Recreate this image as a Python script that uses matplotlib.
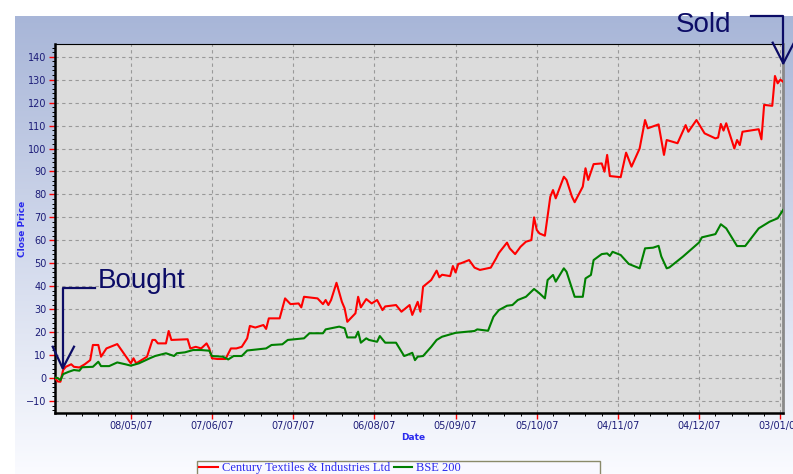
import matplotlib
matplotlib.use("Agg")
import matplotlib.pyplot as plt
import matplotlib.dates as mdates
from matplotlib.patches import Rectangle
from matplotlib.ticker import MultipleLocator, FixedLocator
import numpy as np
import pandas as pd

# Century Textiles (red) - % change of close price
century_dates = [
    '2007-04-10', '2007-04-11', '2007-04-12', '2007-04-13', '2007-04-14', '2007-04-16', '2007-04-17',
    '2007-04-19', '2007-04-21', '2007-04-23', '2007-04-24', '2007-04-26', '2007-04-27', '2007-04-29',
    '2007-05-03', '2007-05-08', '2007-05-09', '2007-05-10', '2007-05-14', '2007-05-16', '2007-05-17',
    '2007-05-18', '2007-05-21', '2007-05-22', '2007-05-23', '2007-05-29', '2007-05-30',
    '2007-06-01', '2007-06-03', '2007-06-05', '2007-06-06', '2007-06-07', '2007-06-09', '2007-06-12',
    '2007-06-14', '2007-06-16', '2007-06-18', '2007-06-20', '2007-06-21', '2007-06-23', '2007-06-26',
    '2007-06-27', '2007-06-28',
    '2007-07-02', '2007-07-04', '2007-07-06', '2007-07-09', '2007-07-10', '2007-07-11', '2007-07-16',
    '2007-07-18', '2007-07-19', '2007-07-20', '2007-07-21', '2007-07-23', '2007-07-25', '2007-07-26',
    '2007-07-27', '2007-07-30', '2007-07-31',
    '2007-08-01', '2007-08-03', '2007-08-05', '2007-08-07', '2007-08-09', '2007-08-10', '2007-08-14',
    '2007-08-16', '2007-08-19', '2007-08-20', '2007-08-22', '2007-08-23', '2007-08-24', '2007-08-27',
    '2007-08-29', '2007-08-30', '2007-08-31',
    '2007-09-03', '2007-09-04', '2007-09-05', '2007-09-06', '2007-09-07', '2007-09-10', '2007-09-12',
    '2007-09-14', '2007-09-18', '2007-09-20', '2007-09-21', '2007-09-24', '2007-09-25', '2007-09-27',
    '2007-09-29',
    '2007-10-01', '2007-10-03', '2007-10-04', '2007-10-05', '2007-10-06', '2007-10-08', '2007-10-10',
    '2007-10-11', '2007-10-12', '2007-10-15', '2007-10-16', '2007-10-18', '2007-10-19', '2007-10-22',
    '2007-10-23', '2007-10-24', '2007-10-26', '2007-10-29', '2007-10-30', '2007-10-31',
    '2007-11-01', '2007-11-05', '2007-11-07', '2007-11-09', '2007-11-12', '2007-11-14', '2007-11-15',
    '2007-11-19', '2007-11-21', '2007-11-22', '2007-11-26', '2007-11-29', '2007-11-30',
    '2007-12-03', '2007-12-06', '2007-12-10', '2007-12-11', '2007-12-12', '2007-12-13', '2007-12-14',
    '2007-12-17', '2007-12-18', '2007-12-19', '2007-12-20', '2007-12-26', '2007-12-27', '2007-12-28',
    '2007-12-31',
    '2008-01-01', '2008-01-02', '2008-01-03', '2008-01-04',
]
century_close = [
    0.0, -1.5, -1.6, 3.5, 4.9, 6.0, 4.9, 4.6, 6.0, 7.8, 14.4, 14.4, 9.3, 12.9,
    14.8, 6.4, 8.6, 6.4, 9.3, 16.6, 16.6, 15.1, 15.1, 20.5, 16.6, 16.9, 12.9,
    13.6, 12.9, 15.1, 12.9, 8.6, 8.3, 8.3, 12.9, 12.9, 13.6, 17.3, 22.7, 22.0, 23.1, 21.4, 26.0,
    26.0, 34.7, 32.2, 32.5, 30.8, 35.4, 34.7, 32.2, 34.0, 31.8, 34.0, 41.5, 33.2, 30.4, 24.5, 28.2, 35.4,
    30.8, 34.4, 32.5, 34.0, 29.6, 31.2, 31.8, 28.9, 31.8, 27.5, 33.2, 28.9, 39.8, 42.7, 46.8, 43.9, 45.0,
    44.4, 48.8, 46.0, 49.7, 50.0, 51.4, 48.1, 47.1, 48.1, 52.2, 54.5, 59.0, 56.5, 54.0, 57.2,
    59.4, 60.1, 70.0, 64.5, 63.0, 62.0, 79.0, 81.9, 78.3, 87.7, 86.3, 79.0, 76.6, 83.4, 91.4, 86.3,
    93.2, 93.5, 89.9, 97.2,
    88.0, 87.5, 98.2, 92.1, 100.0, 112.4, 108.8, 110.5, 97.2, 103.7, 102.3, 110.2, 107.3,
    112.4, 106.6, 104.4, 104.8, 110.7, 107.8, 111.0, 100.0, 103.7, 101.5, 107.3, 108.4, 104.0, 119.0,
    118.6,
    131.6, 128.4, 130.0, 129.1,
]

# BSE 200 (green)
bse_dates = [
    '2007-04-10', '2007-04-11', '2007-04-12', '2007-04-13', '2007-04-15', '2007-04-17', '2007-04-19',
    '2007-04-20', '2007-04-24', '2007-04-26', '2007-04-27', '2007-04-30',
    '2007-05-03', '2007-05-06', '2007-05-08', '2007-05-11', '2007-05-15', '2007-05-17', '2007-05-21',
    '2007-05-24', '2007-05-25', '2007-05-28', '2007-05-31',
    '2007-06-03', '2007-06-06', '2007-06-07', '2007-06-11', '2007-06-13', '2007-06-15', '2007-06-18',
    '2007-06-20', '2007-06-27', '2007-06-29',
    '2007-07-03', '2007-07-05', '2007-07-11', '2007-07-13', '2007-07-18', '2007-07-19', '2007-07-24',
    '2007-07-26', '2007-07-27', '2007-07-30', '2007-07-31',
    '2007-08-01', '2007-08-03', '2007-08-04', '2007-08-07', '2007-08-08', '2007-08-10', '2007-08-14',
    '2007-08-17', '2007-08-18', '2007-08-20', '2007-08-21', '2007-08-22', '2007-08-24', '2007-08-27',
    '2007-08-29', '2007-08-31',
    '2007-09-05', '2007-09-12', '2007-09-13', '2007-09-17', '2007-09-19', '2007-09-21', '2007-09-24',
    '2007-09-26', '2007-09-28',
    '2007-10-01', '2007-10-04', '2007-10-06', '2007-10-08', '2007-10-09', '2007-10-11', '2007-10-12',
    '2007-10-15', '2007-10-16', '2007-10-19', '2007-10-22', '2007-10-23', '2007-10-25', '2007-10-26',
    '2007-10-29', '2007-10-31',
    '2007-11-01', '2007-11-02', '2007-11-05', '2007-11-08', '2007-11-12', '2007-11-14', '2007-11-17',
    '2007-11-19', '2007-11-20', '2007-11-22', '2007-11-23', '2007-11-28',
    '2007-12-04', '2007-12-05', '2007-12-10', '2007-12-12', '2007-12-14', '2007-12-18', '2007-12-21',
    '2007-12-26', '2007-12-30',
    '2008-01-02', '2008-01-04',
]
bse_close = [
    0.1, 0.0, -0.9, 1.7, 2.7, 3.5, 3.2, 4.7, 4.9, 7.1, 5.2, 5.2,
    6.8, 6.0, 5.4, 6.4, 8.6, 9.6, 10.8, 9.6, 10.8, 11.2, 12.2,
    12.2, 11.9, 9.6, 9.3, 8.1, 9.6, 9.6, 12.0, 12.9, 14.4,
    14.7, 16.6, 17.3, 19.5, 19.5, 21.2, 22.4, 21.7, 17.7, 17.7, 20.2,
    15.4, 17.3, 16.6, 15.8, 18.3, 15.4, 15.4, 9.6, 10.0, 11.0, 7.8, 9.3, 9.6, 13.6, 16.6, 18.0,
    19.7, 20.5, 21.2, 20.6, 26.7, 29.6, 31.5, 31.8, 34.0,
    35.4, 38.8, 36.9, 34.7, 42.7, 44.9, 42.0, 47.8, 46.3, 35.4, 35.4, 43.4, 44.9, 51.4, 54.0, 54.3,
    53.2, 55.0, 53.6, 49.7, 47.8, 56.5, 56.8, 57.6, 53.0, 47.8, 48.2, 52.9,
    59.1, 61.3, 62.7, 67.0, 65.2, 57.5, 57.5, 65.2, 68.1,
    69.6, 73.2,
]

tick_dates = ['2007-05-08', '2007-06-07', '2007-07-07', '2007-08-06', '2007-09-05',
              '2007-10-05', '2007-11-04', '2007-12-04', '2008-01-03']
tick_labels = ['08/05/07', '07/06/07', '07/07/07', '06/08/07', '05/09/07',
               '05/10/07', '04/11/07', '04/12/07', '03/01/08']

W, H = 793, 474
navy = '#0c0c66'
lbl_blue = '#2a2aee'
tick_col = '#1c1c78'

fig = plt.figure(figsize=(W / 100, H / 100), dpi=100)

# gradient backdrop
bg = fig.add_axes([15 / W, 0, 1 - 15 / W, 1 - 16 / H], zorder=-10)
top = np.array([168, 182, 216]) / 255
bot = np.array([250, 251, 255]) / 255
t = np.linspace(0, 1, 256)[:, None, None]
bg.imshow(top + (bot - top) * t, aspect='auto', extent=[0, 1, 0, 1])
bg.axis('off')

ax = fig.add_axes([55 / W, 1 - 412.7 / H, (783.3 - 55) / W, (412.7 - 44.3) / H])
ax.set_facecolor('#DCDCDC')

l1, = ax.plot(pd.to_datetime(century_dates), century_close, color='#FF0000', lw=1.5,
              label='Century Textiles & Industries Ltd', zorder=3)
l2, = ax.plot(pd.to_datetime(bse_dates), bse_close, color='#008000', lw=1.5,
              label='BSE 200', zorder=3)

ax.set_xlim(pd.Timestamp('2007-04-10'), pd.Timestamp('2008-01-04 02:00'))
ax.set_ylim(-15.1, 145.4)

ax.set_yticks(np.arange(-10, 141, 10))
ax.yaxis.set_minor_locator(MultipleLocator(2))
ticks = pd.to_datetime(tick_dates)
ax.set_xticks(ticks)
ax.set_xticklabels(tick_labels)
first = mdates.date2num(ticks[0])
ax.xaxis.set_minor_locator(FixedLocator(first + 6 * np.arange(-5, 42)))

ax.grid(True, which='major', color='#999999', linestyle=(0, (3, 3)), linewidth=0.8)
ax.tick_params(which='major', length=4, width=1, color='red', labelsize=7,
               labelcolor=tick_col, pad=2)
ax.tick_params(which='minor', length=2.5, width=0.7, color='black')

for side in ['left', 'bottom']:
    ax.spines[side].set_linewidth(1.8)
    ax.spines[side].set_color('black')
ax.spines['top'].set_linewidth(0.8)
ax.spines['right'].set_linewidth(2)
ax.spines['right'].set_color('#8a8a8a')

ax.set_ylabel('Close Price', fontsize=6.5, fontweight='bold', color=lbl_blue)
ax.yaxis.set_label_coords(-0.039, 0.5)
ax.set_xlabel('Date', fontsize=6.5, fontweight='bold', color=lbl_blue)
ax.xaxis.set_label_coords(0.4916, -0.055)

# legend box at the bottom, cut by the image edge
fig.add_artist(Rectangle((197 / W, -0.05), (600 - 197) / W, 0.05 + 1 - 461 / H,
                         transform=fig.transFigure, facecolor='#F8F8FF',
                         edgecolor='#8a8a6a', lw=1, zorder=5))
leg = fig.legend(handles=[l1, l2], loc='upper left', bbox_to_anchor=(199 / W, 1 - 462 / H),
                 ncol=2, frameon=False, prop={'family': 'Liberation Serif', 'size': 9},
                 handlelength=1.5, handletextpad=0.3, columnspacing=0.3,
                 borderpad=0, borderaxespad=0)
leg.set_zorder(6)
for txt in leg.get_texts():
    txt.set_color(lbl_blue)

# Bought / Sold call-outs
ov = fig.add_axes([0, 0, 1, 1], zorder=10)
ov.set_xlim(0, W)
ov.set_ylim(H, 0)
ov.axis('off')
ov.patch.set_alpha(0)
ov.plot([95, 62.7, 62.7], [287.7, 287.7, 368.3], color=navy, lw=1.6)
ov.plot([52.7, 62.7, 74], [346.7, 368.3, 346.7], color=navy, lw=1.6)
ov.text(98, 288, 'Bought', fontsize=20, family='Liberation Sans', color=navy, va='baseline')
ov.plot([750.7, 783.3, 783.3], [15.7, 15.7, 63.3], color=navy, lw=1.6, clip_on=False)
ov.plot([772.7, 783.3, 794], [42.7, 63.3, 42.7], color=navy, lw=1.6, clip_on=False)
ov.text(676, 32, 'Sold', fontsize=20, family='Liberation Sans', color=navy, va='baseline')

fig.savefig('out.png', dpi=100)
